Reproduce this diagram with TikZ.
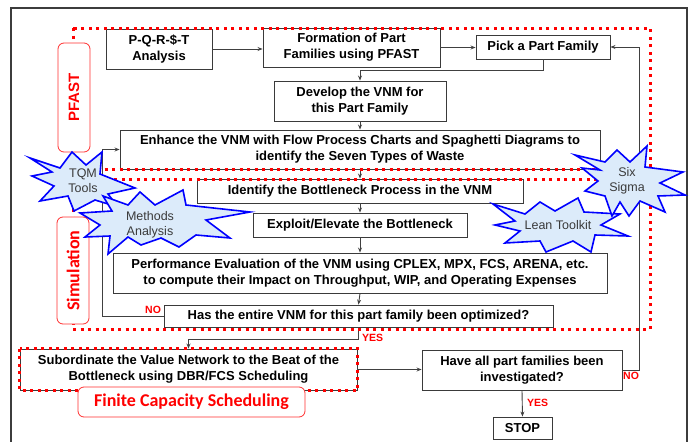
\documentclass[tikz,border=0pt]{standalone}
\usepackage{fontspec}
\setmainfont{Liberation Sans}
\newfontfamily\calib{Carlito}
\usetikzlibrary{arrows.meta}
\definecolor{boxgray}{HTML}{3A3A3A}
\definecolor{linegray}{HTML}{404040}
\definecolor{framegray}{HTML}{3C3C3C}
\definecolor{starfill}{HTML}{DCEBFA}
\definecolor{textgray}{HTML}{3A3A3A}
\definecolor{tagred}{HTML}{FF3030}
\begin{document}
\begin{tikzpicture}[x=1pt,y=-1pt,
  box/.style={draw=boxgray, line width=0.9pt, fill=white, align=center, inner sep=0pt,
              font=\bfseries\fontsize{13}{16}\selectfont},
  flow/.style={draw=linegray, line width=0.9pt, -{Stealth[length=5pt,width=4pt]}},
  region/.style={draw=red, line width=3pt, dash pattern=on 3pt off 4.5pt},
  tag/.style={draw=tagred, line width=0.8pt, rounded corners=6pt, fill=white,
              text=red, inner sep=0pt},
  burst/.style={draw=blue, line width=1.6pt, fill=starfill, line join=miter},
  bursttext/.style={align=center, text=textgray, inner sep=0pt,
                    font=\fontsize{12.5}{15}\selectfont},
  answer/.style={text=red, inner sep=0pt, font=\bfseries\fontsize{10.5}{12}\selectfont}
]
\useasboundingbox (0,0) rectangle (694,442);

% outer frame
\draw[framegray, line width=1.3pt] (11,445) -- (11,8) -- (687,8) -- (687,445);

% process boxes
\node[box, minimum width=106pt, minimum height=40pt] (pqrst) at (159,49) {P-Q-R-\$-T\\Analysis};
\node[box, minimum width=177pt, minimum height=39pt] (form) at (351.5,47.5) {Formation of Part\\Families using PFAST};
\node[box, minimum width=134pt, minimum height=24pt] (pick) at (543,47) {Pick a Part Family};
\node[box, minimum width=172pt, minimum height=40pt] (dev) at (360,101) {Develop the VNM for\\this Part Family};
\node[box, minimum width=480pt, minimum height=39pt] (enh) at (360,149.5)
  {Enhance the VNM with Flow Process Charts and Spaghetti Diagrams to\\identify the Seven Types of Waste};
\node[box, minimum width=326pt, minimum height=24pt] (ident) at (360,191) {Identify the Bottleneck Process in the VNM};
\node[box, minimum width=214pt, minimum height=24pt] (expl) at (360,225) {Exploit/Elevate the Bottleneck};
\node[box, minimum width=494pt, minimum height=40pt] (perf) at (360,273)
  {Performance Evaluation of the VNM using CPLEX, MPX, FCS, ARENA, etc.\\to compute their Impact on Throughput, WIP, and Operating Expenses};
\node[box, minimum width=389pt, minimum height=22pt] (has) at (358.5,316) {Has the entire VNM for this part family been optimized?};
\node[box, minimum width=337pt, minimum height=41pt] (sub) at (188.5,369.5)
  {Subordinate the Value Network to the Beat of the\\Bottleneck using DBR/FCS Scheduling};
\node[box, minimum width=200pt, minimum height=40pt] (all) at (522,370) {Have all part families been\\investigated?};
\node[box, minimum width=59pt, minimum height=22pt] (stop) at (522.5,428) {STOP};

% connectors
\draw[flow] (pqrst.east) -- (pqrst.east -| form.west);
\draw[flow] (form.east) -- (form.east -| pick.west);
\draw[flow] (pick.south) -- ++(0,11) -| (dev.north);
\draw[flow] (dev.south) -- (enh.north);
\draw[flow] (enh.south) -- (ident.north);
\draw[flow] (ident.south) -- (expl.north);
\draw[flow] (expl.south) -- (perf.north);
\draw[flow] (perf.south) -- (has.north);
\draw[flow] (has.west) -- ++(-61,0) |- (enh.west);
\draw[flow] (has.south) -- ++(0,12) -| (sub.north);
\draw[flow] (sub.east) -- (sub.east -| all.west);
\draw[flow] (all.south) -- (stop.north);
\draw[flow] (all.east) -- ++(17,0) |- (pick.east);

% answers on the decision branches
\node[answer, anchor=south west] (noa) at (145,314) {NO};
\node[answer, anchor=west] (yesa) at (362,338) {YES};
\node[answer, anchor=west] (yesb) at (527,403) {YES};
\node[answer, anchor=north west] (nob) at (623,372) {NO};

% dotted regions
\draw[region] (73,28) rectangle (650,169);
\draw[region] (73,179) rectangle (650,329);
\draw[region] (sub.north west) rectangle (sub.south east);

% region tags
\node[tag, minimum width=32pt, minimum height=109pt] (pfast) at (74,97.5)
  {\rotatebox{90}{\bfseries\fontsize{15}{15}\selectfont PFAST}};
\node[tag, minimum width=32pt, minimum height=107pt] (sim) at (73,270.5)
  {\rotatebox{90}{\calib\bfseries\fontsize{18}{18}\selectfont Simulation}};
\node[tag, minimum width=227pt, minimum height=30pt] (fcs) at (191.5,402)
  {\calib\bfseries\fontsize{18}{18}\selectfont Finite Capacity Scheduling};

% toolbox bursts
\filldraw[burst] (30,158) -- (60,168) -- (72,152) -- (86,165) -- (102,152) -- (100,174)
  -- (135,188) -- (108,194) -- (118,207) -- (95,200) -- (74,211) -- (68,196)
  -- (40,201) -- (54,186) -- (32,176) -- (52,172) -- cycle;
\node[bursttext] (tqm) at (83,180.5) {TQM\\Tools};

\filldraw[burst] (80,213) -- (112,211) -- (103,196) -- (128,205) -- (140,192) -- (155,205)
  -- (183,190) -- (186,205) -- (250,212) -- (206,220) -- (230,238) -- (196,235)
  -- (179,247) -- (161,238) -- (141,245) -- (128,237) -- (108,254) -- (110,236)
  -- (85,237) -- (100,225) -- cycle;
\node[bursttext] (meth) at (150,224.5) {Methods\\Analysis};

\filldraw[burst] (493,204) -- (525,214) -- (540,202) -- (555,211) -- (578,198) -- (584,212)
  -- (620,214) -- (601,225) -- (628,236) -- (595,235) -- (591,252) -- (573,241)
  -- (546,252) -- (540,241) -- (505,243) -- (520,231) -- (495,225) -- (515,221) -- cycle;
\node[bursttext] (lean) at (558,225) {Lean Toolkit};

\filldraw[burst] (575,155) -- (605,162) -- (617,150) -- (630,162) -- (647,146) -- (645,167)
  -- (683,172) -- (660,183) -- (685,195) -- (658,196) -- (665,212) -- (640,201)
  -- (629,216) -- (620,202) -- (612,216) -- (605,196) -- (585,191) -- (598,181)
  -- (582,168) -- (600,170) -- cycle;
\node[bursttext] (six) at (627,180.5) {Six\\Sigma};
\end{tikzpicture}
\end{document}
